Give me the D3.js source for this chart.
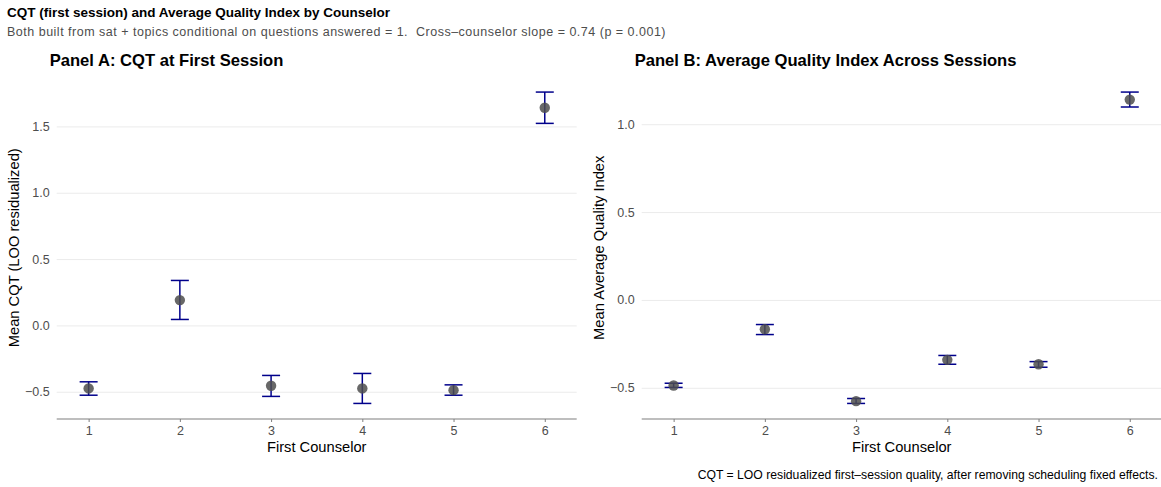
<!DOCTYPE html>
<html>
<head>
<meta charset="utf-8">
<script src="https://cdn.jsdelivr.net/npm/d3@7"></script>
<style>
  body { margin: 0; background: #fff; }
  text { font-family: "Liberation Sans", Arial, sans-serif; }
</style>
</head>
<body>
<script>
// data
var counselors = [1, 2, 3, 4, 5, 6];

var cqtMean = [-0.475, 0.191, -0.455, -0.475, -0.488, 1.641];
var cqtLow  = [-0.526, 0.045, -0.535, -0.588, -0.526, 1.523];
var cqtHigh = [-0.425, 0.339, -0.377, -0.362, -0.448, 1.759];

var aqiMean = [-0.487, -0.167, -0.576, -0.341, -0.366, 1.140];
var aqiLow  = [-0.498, -0.197, -0.589, -0.366, -0.383, 1.098];
var aqiHigh = [-0.474, -0.140, -0.561, -0.316, -0.351, 1.183];

var cqtTicks = [-0.5, 0.0, 0.5, 1.0, 1.5];
var aqiTicks = [-0.5, 0.0, 0.5, 1.0];

var W = 1161, H = 487;
var svg = d3.select("body").append("svg").attr("width", W).attr("height", H);

svg.append("text").attr("x", 7).attr("y", 17)
   .style("font-size", "13.5px").style("font-weight", "bold").attr("fill", "#000")
   .text("CQT (first session) and Average Quality Index by Counselor");
svg.append("text").attr("x", 7).attr("y", 36)
   .style("font-size", "12.5px").style("letter-spacing", "0.5px")
   .style("white-space", "pre").attr("fill", "#4d4d4d")
   .text("Both built from sat + topics conditional on questions answered = 1.  Cross\u2013counselor slope = 0.74 (p = 0.001)");

function panel(opts) {
  var lo = opts.low, hi = opts.high;
  var dmin = d3.min(lo), dmax = d3.max(hi), pad = (dmax - dmin) * 0.05;

  var x = d3.scaleLinear().domain([0.65, 6.35]).range([opts.left, opts.right]);
  var y = d3.scaleLinear().domain([dmin - pad, dmax + pad]).range([419, 76.5]);

  var g = svg.append("g");

  g.append("text").attr("x", opts.left - 7).attr("y", 66)
   .style("font-size", "16.6px").style("font-weight", "bold")
   .text(opts.title);

  // y grid + labels
  var ya = g.append("g").attr("transform", "translate(" + opts.left + ",0)")
    .call(d3.axisLeft(y).tickValues(opts.ticks)
      .tickSize(-(opts.right - opts.left)).tickPadding(7)
      .tickFormat(function(d) { return d3.format(".1f")(d).replace("-", "\u2212"); }));
  ya.select(".domain").remove();
  ya.selectAll("line").attr("stroke", "#ebebeb").attr("stroke-width", 1);
  ya.selectAll("text").attr("fill", "#4d4d4d").style("font-size", "12.5px")
    .style("font-family", "Liberation Sans, Arial, sans-serif");

  // x axis
  var xa = g.append("g").attr("transform", "translate(0,419)")
    .call(d3.axisBottom(x).tickValues(counselors).tickSize(3).tickSizeOuter(0).tickPadding(4)
      .tickFormat(d3.format("d")));
  xa.select(".domain").attr("stroke", "#7f7f7f").attr("stroke-width", 1.2)
    .attr("d", "M" + opts.left + ",0H" + opts.right);
  xa.selectAll(".tick line").attr("stroke", "#7f7f7f");
  xa.selectAll("text").attr("fill", "#4d4d4d").style("font-size", "12.5px")
    .style("font-family", "Liberation Sans, Arial, sans-serif");

  g.append("text").attr("x", (opts.left + opts.right) / 2).attr("y", 452)
   .attr("text-anchor", "middle").style("font-size", "14.7px")
   .text("First Counselor");

  g.append("text")
   .attr("transform", "translate(" + opts.ytitleX + "," + ((76.5 + 419) / 2) + ") rotate(-90)")
   .attr("text-anchor", "middle").style("font-size", "14.7px")
   .text(opts.ytitle);

  var rows = counselors.map(function(c, i) {
    return { c: c, m: opts.mean[i], lo: lo[i], hi: hi[i] };
  });

  var bars = g.selectAll("g.eb").data(rows).enter().append("g").attr("class", "eb");
  bars.append("line")
    .attr("x1", function(d) { return x(d.c); }).attr("x2", function(d) { return x(d.c); })
    .attr("y1", function(d) { return y(d.lo); }).attr("y2", function(d) { return y(d.hi); });
  bars.append("line")
    .attr("x1", function(d) { return x(d.c) - 9; }).attr("x2", function(d) { return x(d.c) + 9; })
    .attr("y1", function(d) { return y(d.lo); }).attr("y2", function(d) { return y(d.lo); });
  bars.append("line")
    .attr("x1", function(d) { return x(d.c) - 9; }).attr("x2", function(d) { return x(d.c) + 9; })
    .attr("y1", function(d) { return y(d.hi); }).attr("y2", function(d) { return y(d.hi); });
  bars.selectAll("line").attr("stroke", "#00008B").attr("stroke-width", 1.5);

  g.selectAll("circle.pt").data(rows).enter().append("circle")
    .attr("class", "pt")
    .attr("cx", function(d) { return x(d.c); })
    .attr("cy", function(d) { return y(d.m); })
    .attr("r", 5.2)
    .attr("fill", "#4d4d4d").attr("fill-opacity", 0.85);
}

panel({ left: 56.7, right: 576.7, mean: cqtMean, low: cqtLow, high: cqtHigh, ticks: cqtTicks,
        title: "Panel A: CQT at First Session", ytitle: "Mean CQT (LOO residualized)", ytitleX: 19 });
panel({ left: 641.7, right: 1161.7, mean: aqiMean, low: aqiLow, high: aqiHigh, ticks: aqiTicks,
        title: "Panel B: Average Quality Index Across Sessions", ytitle: "Mean Average Quality Index", ytitleX: 604 });

svg.append("text").attr("x", 1158).attr("y", 479).attr("text-anchor", "end")
   .style("font-size", "12.2px").attr("fill", "#000")
   .text("CQT = LOO residualized first\u2013session quality, after removing scheduling fixed effects.");
</script>
</body>
</html>
